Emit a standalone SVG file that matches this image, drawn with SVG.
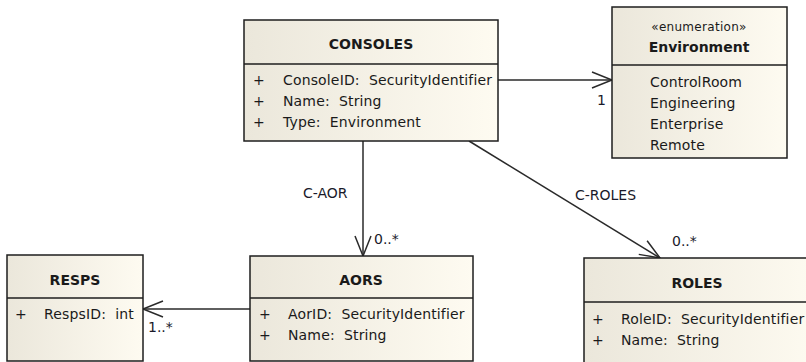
<svg xmlns="http://www.w3.org/2000/svg" width="806" height="362" viewBox="0 0 806 362">
<style>
text{white-space:pre}
.box{fill:url(#g);stroke:#1e1e1e;stroke-width:1.5}
.div{stroke:#1e1e1e;stroke-width:1.5}
.t{font-family:"DejaVu Sans",sans-serif;font-size:14px;letter-spacing:0.15px;fill:#1a1a1a}
.b{font-family:"DejaVu Sans",sans-serif;font-size:14px;font-weight:bold;fill:#1a1a1a;text-anchor:middle}
.s{font-family:"DejaVu Sans",sans-serif;font-size:12px;letter-spacing:0.3px;fill:#1a1a1a;text-anchor:middle}
.e{stroke:#2a2a2a;stroke-width:1.5;fill:none}
.l{font-family:"DejaVu Sans",sans-serif;font-size:14px;fill:#1a1a2a}
</style>
<defs>
<linearGradient id="g" x1="0" y1="0" x2="1" y2="0">
<stop offset="0" stop-color="#ebe7db"/>
<stop offset="1" stop-color="#fefbf1"/>
</linearGradient>
<marker id="a" markerWidth="24" markerHeight="24" refX="22" refY="12" orient="auto" markerUnits="userSpaceOnUse">
<path d="M2,4 L22,12 L2,20" fill="none" stroke="#2a2a2a" stroke-width="1.5"/>
</marker>
</defs>
<g id="connectors">
<line class="e" x1="498" y1="80" x2="612" y2="80" marker-end="url(#a)"/>
<line class="e" x1="363" y1="141" x2="363" y2="256" marker-end="url(#a)"/>
<line class="e" x1="469" y1="141" x2="660" y2="258" marker-end="url(#a)"/>
<line class="e" x1="250" y1="309" x2="143" y2="309" marker-end="url(#a)"/>
<text class="l" x="597" y="105">1</text>
<text class="l" x="303" y="198">C-AOR</text>
<text class="l" x="374" y="244">0..*</text>
<text class="l" x="575" y="200">C-ROLES</text>
<text class="l" x="672" y="246">0..*</text>
<text class="l" x="148" y="332">1..*</text>
</g>
<g id="consoles">
<rect class="box" x="244" y="20" width="254" height="121"/>
<line class="div" x1="244" y1="64" x2="498" y2="64"/>
<text class="b" x="371" y="49">CONSOLES</text>
<text class="t" x="253" y="85">+</text><text class="t" x="283" y="85">ConsoleID:  SecurityIdentifier</text>
<text class="t" x="253" y="106">+</text><text class="t" x="283" y="106">Name:  String</text>
<text class="t" x="253" y="127">+</text><text class="t" x="283" y="127">Type:  Environment</text>
</g>
<g id="environment">
<rect class="box" x="612" y="7" width="175" height="151"/>
<line class="div" x1="612" y1="65" x2="787" y2="65"/>
<text class="s" x="699" y="31">«enumeration»</text>
<text class="b" x="699" y="52">Environment</text>
<text class="t" x="650" y="87">ControlRoom</text>
<text class="t" x="650" y="108">Engineering</text>
<text class="t" x="650" y="129">Enterprise</text>
<text class="t" x="650" y="150">Remote</text>
</g>
<g id="resps">
<rect class="box" x="7" y="255" width="136" height="106"/>
<line class="div" x1="7" y1="298" x2="143" y2="298"/>
<text class="b" x="75" y="285">RESPS</text>
<text class="t" x="15" y="319">+</text><text class="t" x="44" y="319">RespsID:  int</text>
</g>
<g id="aors">
<rect class="box" x="250" y="256" width="223" height="105"/>
<line class="div" x1="250" y1="298" x2="473" y2="298"/>
<text class="b" x="361" y="285">AORS</text>
<text class="t" x="259" y="319">+</text><text class="t" x="288" y="319">AorID:  SecurityIdentifier</text>
<text class="t" x="259" y="340">+</text><text class="t" x="288" y="340">Name:  String</text>
</g>
<g id="roles">
<rect class="box" x="584" y="258" width="240" height="110"/>
<line class="div" x1="584" y1="302" x2="824" y2="302"/>
<text class="b" x="697" y="288">ROLES</text>
<text class="t" x="592" y="324">+</text><text class="t" x="621" y="324">RoleID:  SecurityIdentifier</text>
<text class="t" x="592" y="345">+</text><text class="t" x="621" y="345">Name:  String</text>
</g>
</svg>
